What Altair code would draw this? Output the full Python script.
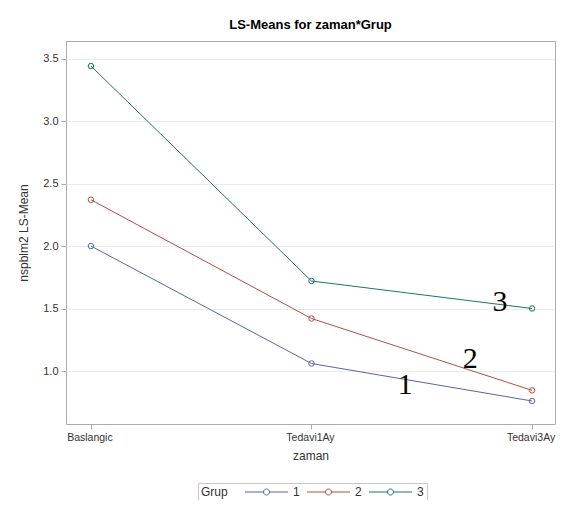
import altair as alt
import pandas as pd

categories = ["Baslangic", "Tedavi1Ay", "Tedavi3Ay"]
groups = ["1", "2", "3"]
values_g1 = [2.00, 1.06, 0.76]
values_g2 = [2.37, 1.42, 0.845]
values_g3 = [3.44, 1.72, 1.50]
colors = ["#5566aa", "#b24e45", "#1a766c"]

ann_text = ["1", "2", "3"]
ann_x = [1.425, 1.72, 1.855]
ann_y = [0.885, 1.10, 1.555]

rows = []
for g, vals in zip(groups, [values_g1, values_g2, values_g3]):
    for i, v in enumerate(vals):
        rows.append({"zi": i, "zaman": categories[i], "Grup": g, "mean": v})
df = pd.DataFrame(rows)
ann = pd.DataFrame({"x": ann_x, "y": ann_y, "t": ann_text})

label_expr = "[" + ",".join("'%s'" % c for c in categories) + "][datum.value]"

xenc = alt.X("zi:Q", title="zaman",
             scale=alt.Scale(domain=[-0.113, 2.104], nice=False, zero=False),
             axis=alt.Axis(values=[0, 1, 2], labelExpr=label_expr, grid=False,
                           tickSize=5, labelPadding=3, titlePadding=8,
                           labelFontSize=10.5, labelOffset=-1.5))
yenc = alt.Y("mean:Q", title="nspblm2 LS-Mean",
             scale=alt.Scale(domain=[0.576, 3.64], nice=False, zero=False),
             axis=alt.Axis(values=[1.0, 1.5, 2.0, 2.5, 3.0, 3.5], format=".1f",
                           grid=True, tickSize=5, labelPadding=3, titlePadding=12))

# legend glyph: line with small open circle in its middle (units of 5px)
legend_path = ("M-1,0L2.7,0M3.9,0L7.6,0M3.9,0A0.6,0.6,0,1,1,2.7,0"
               "A0.6,0.6,0,1,1,3.9,0")

color = alt.Color("Grup:N", scale=alt.Scale(domain=groups, range=colors),
                  legend=alt.Legend(orient="none", legendX=132, legendY=442,
                                    direction="horizontal", titleOrient="left",
                                    titleAnchor="middle", titleBaseline="middle",
                                    symbolType=legend_path, symbolSize=100,
                                    symbolStrokeWidth=1, symbolFillColor="transparent",
                                    columnPadding=5, labelOffset=37,
                                    strokeColor="#c8c8c8", padding=3,
                                    titlePadding=16))

lines = alt.Chart(df).mark_line(strokeWidth=1).encode(x=xenc, y=yenc, color=color)
points = alt.Chart(df).mark_point(size=30, filled=False, strokeWidth=1, opacity=1).encode(
    x=xenc, y=yenc, color=alt.Color("Grup:N", scale=alt.Scale(domain=groups, range=colors), legend=None))
texts = alt.Chart(ann).mark_text(font="Liberation Serif", fontSize=30, color="black",
                                 baseline="middle", align="center").encode(
    x=alt.X("x:Q"), y=alt.Y("y:Q"), text="t:N")

chart = alt.layer(lines, points, texts).properties(
    width=489, height=383,
    title=alt.Title("LS-Means for zaman*Grup", fontSize=13, fontWeight="bold",
                    font="Liberation Sans", offset=9),
    autosize=alt.AutoSizeParams(type="none"),
    padding={"left": 58, "top": 33, "right": 1, "bottom": 76},
).configure_view(stroke="#a8adb5", strokeWidth=1).configure_axis(
    labelFont="Liberation Sans", titleFont="Liberation Sans", labelFontSize=11,
    titleFontSize=12, titleFontWeight="normal", labelColor="#333333", titleColor="#333333",
    domain=False, tickColor="#a8adb5", gridColor="#ebebeb"
).configure_legend(labelFont="Liberation Sans", titleFont="Liberation Sans",
                   labelFontSize=12, titleFontSize=12, titleFontWeight="normal",
                   labelColor="#333333", titleColor="#333333")

chart.save("out.html", embed_options={"renderer": "svg", "actions": False})
